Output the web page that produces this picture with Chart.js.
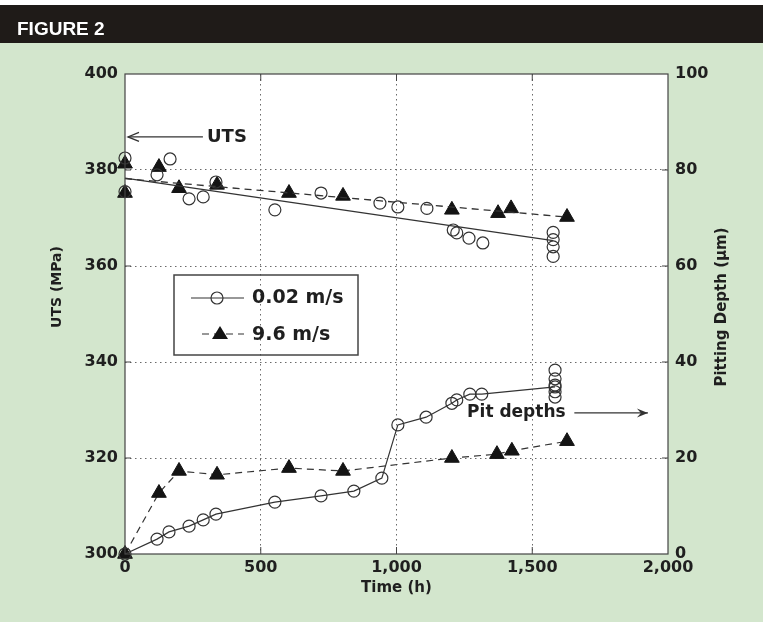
<!DOCTYPE html>
<html>
<head>
<meta charset="utf-8">
<script src="https://cdn.jsdelivr.net/npm/chart.js@4.4.1/dist/chart.umd.min.js"></script>
<style>
  html, body { margin: 0; padding: 0; background: #d3e6cd; }
  canvas { display: block; }
</style>
</head>
<body>
<canvas id="fig2" width="763" height="622"></canvas>
<script>
// axis ticks
const timeTicks = [0, 500, 1000, 1500, 2000];
const timeTickLabels = ['0', '500', '1,000', '1,500', '2,000'];
const utsTicks = [300, 320, 340, 360, 380, 400];
const depthTicks = [0, 20, 40, 60, 80, 100];

// UTS, 0.02 m/s (open circles)
const utsSlowTime = [0, 0, 118, 166, 236, 288, 335, 552, 722, 939, 1005, 1112, 1209, 1222, 1267, 1318, 1577, 1577, 1577, 1577];
const utsSlow = [382.5, 375.5, 379, 382.3, 374, 374.4, 377.5, 371.7, 375.2, 373.1, 372.3, 372, 367.5, 366.9, 365.8, 364.8, 367, 365.5, 364, 362];
// UTS, 9.6 m/s (filled triangles)
const utsFastTime = [0, 0, 125, 199, 339, 604, 803, 1204, 1374, 1422, 1628];
const utsFast = [381.3, 375.2, 380.6, 376.2, 376.9, 375.2, 374.6, 371.7, 371, 372, 370.2];
// UTS trend lines
const utsSlowFitTime = [0, 1577];
const utsSlowFit = [378.3, 365.3];
const utsFastFitTime = [0, 1628];
const utsFastFit = [378.2, 370.2];

// pit depths, 0.02 m/s
const pitSlowTime = [0, 118, 162, 236, 288, 335, 552, 722, 843, 946, 1005, 1109, 1204, 1222, 1270, 1314, 1584];
const pitSlow = [0, 3.1, 4.6, 5.8, 7.1, 8.3, 10.8, 12.1, 13.1, 15.8, 26.9, 28.5, 31.4, 32.1, 33.3, 33.3, 34.8];
const pitSlowExtraTime = [1584, 1584, 1584, 1584, 1584];
const pitSlowExtra = [38.3, 36.5, 35.2, 33.8, 32.7];
// pit depths, 9.6 m/s
const pitFastTime = [0, 125, 199, 339, 604, 803, 1204, 1370, 1425, 1628];
const pitFast = [0, 12.7, 17.3, 16.5, 17.9, 17.3, 20, 20.8, 21.5, 23.5];

// annotation anchors (data units)
const utsNote = { text: 'UTS', y: 386.9, arrowFrom: 287, arrowTo: 11, textAt: 302 };
const pitNote = { text: 'Pit depths', y: 29.4, textAt: 1260, arrowFrom: 1655, arrowTo: 1926 };

const pts = (xs, ys) => xs.map((x, i) => ({ x: x, y: ys[i] }));

const ink = '#1f1f1f';
const tickFont = { family: 'DejaVu Sans', weight: 'bold', size: 16, lineHeight: 1.2 };

const circleStyle = {
    pointStyle: 'circle', pointRadius: 6, pointBorderWidth: 1.2,
    pointBorderColor: '#333', pointBackgroundColor: 'rgba(0,0,0,0)'
};
const triStyle = {
    pointStyle: 'triangle', pointRadius: 8.5, pointBorderWidth: 1,
    pointBorderColor: '#141414', pointBackgroundColor: '#141414'
};

const innerGrid = (ctx) => {
    const ticks = ctx.scale.ticks;
    return (ctx.index === 0 || ctx.index === ticks.length - 1) ? 'rgba(0,0,0,0)' : '#6a6a6a';
};

const drawArrowHead = (ctx, x, y, dir, filled) => {
    ctx.beginPath();
    ctx.moveTo(x - dir * 11, y - 4.5);
    ctx.lineTo(x, y);
    ctx.lineTo(x - dir * 11, y + 4.5);
    if (filled) {
        ctx.lineTo(x - dir * 7, y);
        ctx.closePath();
        ctx.fill();
    } else {
        ctx.stroke();
    }
};

const figureDecor = {
    id: 'figureDecor',
    beforeDraw(chart) {
        const { ctx, width, height, chartArea: a } = chart;
        ctx.save();
        ctx.fillStyle = '#d3e6cd';
        ctx.fillRect(0, 0, width, height);
        ctx.fillStyle = '#ffffff';
        ctx.fillRect(0, 0, width, 5);
        ctx.fillStyle = '#1f1b18';
        ctx.fillRect(0, 5, width, 38);
        ctx.fillStyle = '#ffffff';
        ctx.font = 'bold 19px "Liberation Sans"';
        ctx.textBaseline = 'alphabetic';
        ctx.textAlign = 'left';
        ctx.fillText('FIGURE 2', 17, 35);
        ctx.fillRect(a.left, a.top, a.right - a.left, a.bottom - a.top);
        ctx.restore();
    },
    afterDatasetsDraw(chart) {
        const { ctx, chartArea: a, scales } = chart;
        const x = scales.x, y = scales.y, y2 = scales.y2;
        ctx.save();

        // frame
        ctx.strokeStyle = '#444';
        ctx.lineWidth = 1.2;
        ctx.setLineDash([]);
        ctx.strokeRect(a.left, a.top, a.right - a.left, a.bottom - a.top);

        // inward tick marks
        ctx.lineWidth = 1;
        ctx.beginPath();
        timeTicks.slice(1, -1).forEach(v => {
            const px = x.getPixelForValue(v);
            ctx.moveTo(px, a.bottom); ctx.lineTo(px, a.bottom - 7);
            ctx.moveTo(px, a.top); ctx.lineTo(px, a.top + 7);
        });
        utsTicks.slice(1, -1).forEach(v => {
            const py = y.getPixelForValue(v);
            ctx.moveTo(a.left, py); ctx.lineTo(a.left + 6, py);
        });
        depthTicks.slice(1, -1).forEach(v => {
            const py = y2.getPixelForValue(v);
            ctx.moveTo(a.right, py); ctx.lineTo(a.right - 6, py);
        });
        ctx.stroke();

        // axis titles on the sides
        ctx.fillStyle = ink;
        ctx.textAlign = 'center';
        ctx.textBaseline = 'middle';
        ctx.font = 'bold 14px "DejaVu Sans"';
        ctx.save();
        ctx.translate(57, 287);
        ctx.rotate(-Math.PI / 2);
        ctx.fillText('UTS (MPa)', 0, 0);
        ctx.restore();
        ctx.save();
        ctx.translate(722, 307);
        ctx.rotate(-Math.PI / 2);
        ctx.font = 'bold 15px "DejaVu Sans"';
        ctx.fillText('Pitting Depth (\u00b5m)', 0, 0);
        ctx.restore();

        // legend box
        const lx = a.left + 49, ly = 275, lw = 184, lh = 80;
        ctx.strokeStyle = '#444';
        ctx.lineWidth = 1.5;
        ctx.strokeRect(lx, ly, lw, lh);
        ctx.lineWidth = 1.2;
        ctx.strokeStyle = '#333';
        ctx.beginPath();
        ctx.moveTo(lx + 17, ly + 23); ctx.lineTo(lx + 70, ly + 23);
        ctx.stroke();
        ctx.beginPath();
        ctx.arc(lx + 43, ly + 23, 6, 0, Math.PI * 2);
        ctx.stroke();
        ctx.setLineDash([7, 5]);
        ctx.beginPath();
        ctx.moveTo(lx + 28, ly + 59); ctx.lineTo(lx + 70, ly + 59);
        ctx.stroke();
        ctx.setLineDash([]);
        ctx.fillStyle = '#141414';
        ctx.beginPath();
        ctx.moveTo(lx + 46, ly + 51);
        ctx.lineTo(lx + 54, ly + 64);
        ctx.lineTo(lx + 38, ly + 64);
        ctx.closePath();
        ctx.fill();
        ctx.fillStyle = ink;
        ctx.font = 'bold 19px "DejaVu Sans"';
        ctx.textAlign = 'left';
        ctx.fillText('0.02 m/s', lx + 78, ly + 23);
        ctx.fillText('9.6 m/s', lx + 78, ly + 60);

        // UTS note
        const uy = y.getPixelForValue(utsNote.y);
        ctx.font = 'bold 18px "DejaVu Sans"';
        ctx.fillText(utsNote.text, x.getPixelForValue(utsNote.textAt), uy);
        ctx.strokeStyle = '#333';
        ctx.lineWidth = 1.3;
        ctx.beginPath();
        ctx.moveTo(x.getPixelForValue(utsNote.arrowFrom), uy);
        ctx.lineTo(x.getPixelForValue(utsNote.arrowTo), uy);
        ctx.stroke();
        drawArrowHead(ctx, x.getPixelForValue(utsNote.arrowTo), uy, -1, false);

        // pit depth note
        const py = y2.getPixelForValue(pitNote.y);
        ctx.font = 'bold 17px "DejaVu Sans"';
        ctx.fillText(pitNote.text, x.getPixelForValue(pitNote.textAt), py);
        ctx.beginPath();
        ctx.moveTo(x.getPixelForValue(pitNote.arrowFrom), py);
        ctx.lineTo(x.getPixelForValue(pitNote.arrowTo), py);
        ctx.stroke();
        ctx.fillStyle = '#333';
        drawArrowHead(ctx, x.getPixelForValue(pitNote.arrowTo), py, 1, true);

        ctx.restore();
    }
};

const ctx = document.getElementById('fig2').getContext('2d');
const chart = new Chart(ctx, {
    type: 'scatter',
    data: {
        datasets: [
            {
                label: 'UTS fit 0.02 m/s', yAxisID: 'y', showLine: true,
                data: pts(utsSlowFitTime, utsSlowFit),
                borderColor: '#333', borderWidth: 1.3, pointRadius: 0
            },
            {
                label: 'UTS fit 9.6 m/s', yAxisID: 'y', showLine: true,
                data: pts(utsFastFitTime, utsFastFit),
                borderColor: '#333', borderWidth: 1.3, borderDash: [7, 5], pointRadius: 0
            },
            Object.assign({
                label: 'Pit depth 0.02 m/s', yAxisID: 'y2', showLine: true,
                data: pts(pitSlowTime, pitSlow),
                borderColor: '#333', borderWidth: 1.2
            }, circleStyle),
            Object.assign({
                label: 'Pit depth 0.02 m/s (spread)', yAxisID: 'y2', showLine: false,
                data: pts(pitSlowExtraTime, pitSlowExtra)
            }, circleStyle),
            Object.assign({
                label: 'Pit depth 9.6 m/s', yAxisID: 'y2', showLine: true,
                data: pts(pitFastTime, pitFast),
                borderColor: '#333', borderWidth: 1.2, borderDash: [7, 5]
            }, triStyle),
            Object.assign({
                label: 'UTS 0.02 m/s', yAxisID: 'y', showLine: false,
                data: pts(utsSlowTime, utsSlow)
            }, circleStyle),
            Object.assign({
                label: 'UTS 9.6 m/s', yAxisID: 'y', showLine: false,
                data: pts(utsFastTime, utsFast)
            }, triStyle)
        ]
    },
    options: {
        responsive: false,
        animation: false,
        events: [],
        clip: false,
        layout: { padding: { top: 74, left: 0, right: 0, bottom: 0 } },
        plugins: {
            legend: { display: false },
            tooltip: { enabled: false }
        },
        scales: {
            x: {
                type: 'linear', position: 'bottom', min: 0, max: 2000,
                afterBuildTicks: s => { s.ticks = timeTicks.map(v => ({ value: v })); },
                afterFit: s => { s.height = 68; },
                ticks: {
                    font: tickFont, color: ink, padding: 4,
                    maxRotation: 0, autoSkip: false,
                    callback: (v, i) => timeTickLabels[i]
                },
                grid: { color: innerGrid, lineWidth: 1, drawTicks: false },
                border: { display: false, dash: [1.5, 3.5] },
                title: {
                    display: true, text: 'Time (h)', color: ink,
                    font: { family: 'DejaVu Sans', weight: 'bold', size: 15, lineHeight: 1.2 },
                    padding: { top: 0, bottom: 25 }
                }
            },
            y: {
                type: 'linear', position: 'left', min: 300, max: 400,
                afterBuildTicks: s => { s.ticks = utsTicks.map(v => ({ value: v })); },
                afterFit: s => { s.width = 125; },
                ticks: { font: tickFont, color: ink, padding: 7 },
                grid: { color: innerGrid, lineWidth: 1, drawTicks: false },
                border: { display: false, dash: [1.5, 3.5] }
            },
            y2: {
                type: 'linear', position: 'right', min: 0, max: 100,
                afterBuildTicks: s => { s.ticks = depthTicks.map(v => ({ value: v })); },
                afterFit: s => { s.width = 95; },
                ticks: { font: tickFont, color: ink, padding: 7 },
                grid: { display: false, drawTicks: false },
                border: { display: false }
            }
        }
    },
    plugins: [figureDecor]
});
</script>
</body>
</html>
